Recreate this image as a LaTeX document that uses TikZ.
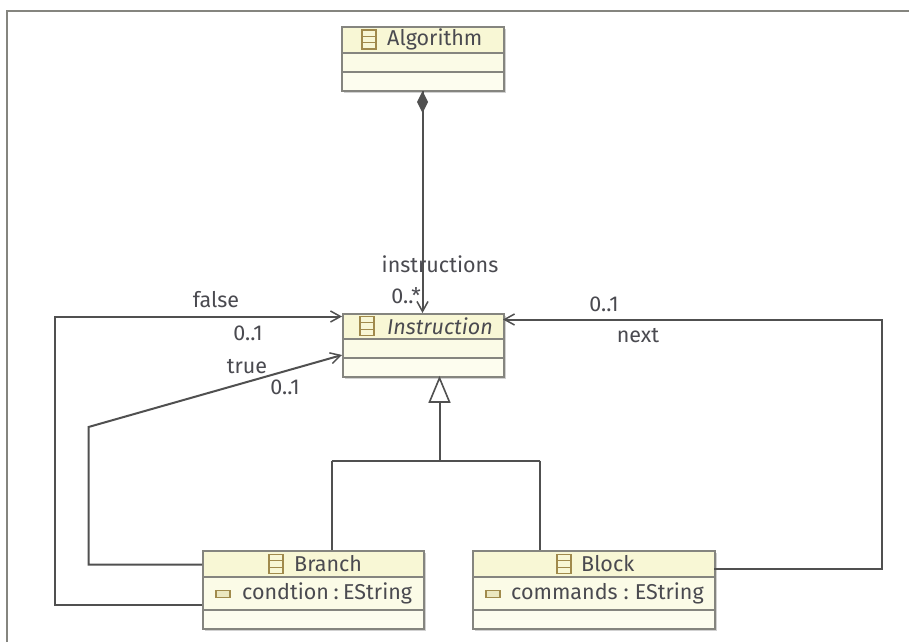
\documentclass[tikz,border=0pt]{standalone}
\usepackage{fontspec}
\setmainfont{Fira Sans}
\usetikzlibrary{arrows.meta,calc}
\definecolor{hdr}{HTML}{F8F7D5}
\definecolor{bod}{HTML}{FDFDEF}
\definecolor{edge}{HTML}{85857F}
\definecolor{conn}{HTML}{505050}
\definecolor{txt}{HTML}{4A4A50}
\definecolor{ico}{HTML}{A08A4C}
\newcommand{\lblfont}{\fontsize{21.5}{24}\selectfont}
\tikzset{x=1pt,y=-1pt,
 conline/.style={draw=conn,line width=2pt},
 openarr/.style={-{Straight Barb[length=10pt,width=11pt,line width=1.5pt]}},
 lbl/.style={text=txt,font=\lblfont,inner sep=0pt,anchor=center},
 ttl/.style={text=txt,font=\lblfont,inner sep=0pt,anchor=west},
 anchorbox/.style={inner sep=0pt,minimum size=0pt},
}
% class box: name, x1,y1,x2,y2, y-divider1, y-divider2
\newcommand{\umlbox}[7]{%
  \fill[black!18] (#2+3,#3+3) rectangle (#4+3,#5+3);
  \fill[bod] (#2,#7) rectangle (#4,#5);
  \fill[bod!70!hdr] (#2,#6) rectangle (#4,#7);
  \fill[hdr] (#2,#3) rectangle (#4,#6);
  \draw[edge,line width=2pt] (#2,#6) -- (#4,#6) (#2,#7) -- (#4,#7);
  \node[draw=edge,line width=2pt,fill=none,anchorbox,minimum width=#4pt-#2pt,minimum height=#5pt-#3pt,anchor=north west] (#1) at (#2,#3) {};
}
\newcommand{\clsicon}[2]{%
  \draw[ico,line width=1.2pt] (#1-7,#2-9.5) rectangle (#1+7,#2+9.5);
  \draw[ico,line width=1.2pt] (#1-7,#2-3.2) -- (#1+7,#2-3.2) (#1-7,#2+3.2) -- (#1+7,#2+3.2);
}
\newcommand{\attricon}[2]{%
  \draw[ico,line width=1.2pt,fill=hdr!85!ico] (#1-7,#2-3.5) rectangle (#1+7,#2+3.5);
}
\begin{document}
\begin{tikzpicture}
\useasboundingbox (0,0) rectangle (909,642);
\fill[white] (0,0) rectangle (909,642);
\draw[edge,line width=2pt] (6.5,642) -- (6.5,11) -- (909,11);
% boxes
\umlbox{alg}{341}{26}{503}{90}{53}{72}
\umlbox{ins}{342}{313}{503}{376}{339}{358}
\umlbox{bra}{202}{550}{423}{628}{577}{610}
\umlbox{blo}{472}{550}{714}{628}{577}{610}
\clsicon{369}{39.5}
\node[ttl] (algt) at (387,39) {Algorithm};
\clsicon{367}{326}
\node[ttl,font=\lblfont\itshape] (inst) at (387,326) {Instruction};
\clsicon{276}{564}
\node[ttl] (brat) at (294,564) {Branch};
\clsicon{564}{564}
\node[ttl] (blot) at (581,564) {Block};
\attricon{223}{594}
\node[ttl] (brav) at (242,593) {condtion\hspace{4.5pt}:\hspace{4.5pt}EString};
\attricon{493}{594}
\node[ttl] (blov) at (511,593) {commands\hspace{6pt}:\hspace{6pt}EString};
% coordinates
\coordinate (a1) at (422.5,91);
\coordinate (a2) at (422.5,313);
\coordinate (f0) at (202,604.5);
\coordinate (f1) at (54.5,604.5);
\coordinate (f2) at (54.5,316.5);
\coordinate (f3) at (342,316.5);
\coordinate (t0) at (202,564.5);
\coordinate (t1) at (88.5,564.5);
\coordinate (t2) at (88.5,427);
\coordinate (t3) at (342,355);
\coordinate (n0) at (714,568.5);
\coordinate (n1) at (881.5,568.5);
\coordinate (n2) at (881.5,319.5);
\coordinate (n3) at (503,319.5);
\coordinate (g0) at (439.5,378);
\coordinate (g1) at (439.5,402);
\coordinate (g2) at (439.5,460.5);
\coordinate (g3) at (331.5,460.5);
\coordinate (g4) at (331.5,550);
\coordinate (g5) at (539.5,460.5);
\coordinate (g6) at (539.5,550);
% connectors
\draw[conline,openarr] (a1) -- (a2);
\fill[conn] (a1) -- ++(-5.5,11) -- ++(5.5,11) -- ++(5.5,-11) -- cycle;
\draw[conline,openarr] (f0) -- (f1) -- (f2) -- (f3);
\draw[conline,openarr] (t0) -- (t1) -- (t2) -- (t3);
\draw[conline,openarr] (n0) -- (n1) -- (n2) -- (n3);
\draw[conline] (g1) -- (g2) (g3) -- (g4) (g3) -- (g5) (g5) -- (g6);
\draw[conn,line width=1.6pt,fill=white] (g0) -- (429.5,402) -- (449.5,402) -- cycle;
% labels
\node[lbl] (linstr) at (440,264) {instructions};
\node[lbl] (lstar) at (406,296) {0..*};
\node[lbl] (lfalse) at (216,300) {false};
\node[lbl] (l01a) at (248,333) {0..1};
\node[lbl] (ltrue) at (247,367) {true};
\node[lbl] (l01b) at (285,387) {0..1};
\node[lbl] (l01c) at (604,304) {0..1};
\node[lbl] (lnext) at (638,336) {next};
\end{tikzpicture}
\end{document}
